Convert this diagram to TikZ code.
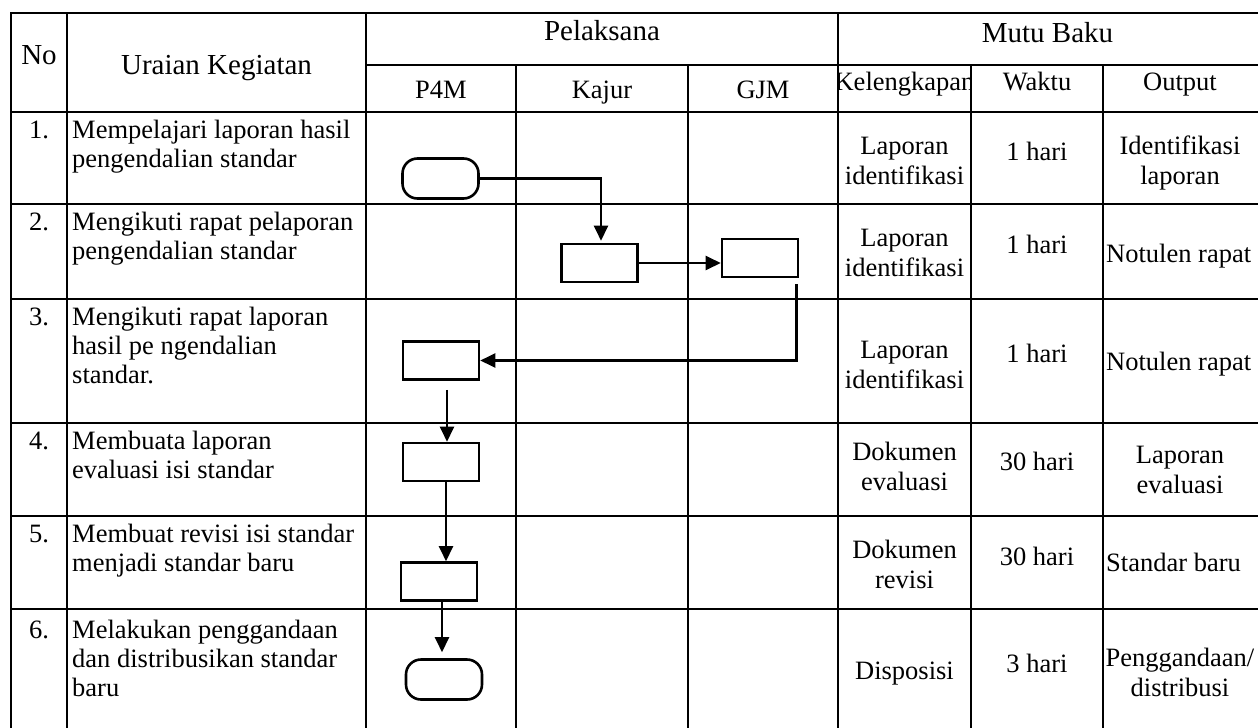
\documentclass[tikz,border=0pt]{standalone}
\usepackage{fontspec}
\setmainfont{Liberation Serif}
\usetikzlibrary{arrows.meta}
\begin{document}
\begin{tikzpicture}[x=1pt,y=-1pt,
  grid/.style={line width=1.1pt},
  proc/.style={draw,line width=2.6pt,minimum width=76pt,minimum height=38pt,inner sep=0pt},
  term/.style={draw,line width=2.6pt,rounded corners=15pt,minimum width=76pt,minimum height=40pt,inner sep=0pt},
  flow/.style={line width=2.4pt,-{Triangle[length=15pt,width=14pt]}},
  hd/.style={font=\fontsize{29}{33}\selectfont,anchor=base,inner sep=0pt},
  sub/.style={font=\fontsize{26.5}{29}\selectfont,anchor=base,inner sep=0pt},
  txt/.style={font=\fontsize{26.5}{29}\selectfont,anchor=base west,align=left,inner sep=0pt},
  num/.style={font=\fontsize{26.5}{29}\selectfont,anchor=base,inner sep=0pt},
  cel/.style={font=\fontsize{26.5}{30}\selectfont,anchor=base,align=center,inner sep=0pt},
  celw/.style={font=\fontsize{26.5}{30}\selectfont,anchor=base west,inner sep=0pt},
]
\fill[white] (0,0) rectangle (1258,728);
\path[use as bounding box] (0,0) rectangle (1258,728);

% table grid (right and bottom borders fall just outside the picture)
\begin{scope}
\clip (0,0) rectangle (1258,728);
\draw[grid] (11,13) rectangle (1259.5,729.5);
\draw[grid] (366,65) -- (1259.5,65);
\foreach \yy in {112,204,299,423,516,609} {\draw[grid] (11,\yy) -- (1259.5,\yy);}
\foreach \xx in {67,366,838} {\draw[grid] (\xx,13) -- (\xx,729.5);}
\foreach \xx in {516,688,971,1103} {\draw[grid] (\xx,65) -- (\xx,729.5);}
\end{scope}

% headers
\node[hd] (hno) at (39,64) {No};
\node[hd] (hur) at (216.5,74) {Uraian Kegiatan};
\node[hd] (hpel) at (602,40) {Pelaksana};
\node[hd] (hmb) at (1047.5,42) {Mutu Baku};
\node[sub] (hp4m) at (441,98) {P4M};
\node[sub] (hkaj) at (602,98) {Kajur};
\node[sub] (hgjm) at (763,98) {GJM};
\begin{scope}
  \clip (838,65) rectangle (971,112);
  \node[sub] (hkel) at (904.5,90) {Kelengkapan};
\end{scope}
\node[sub] (hwak) at (1037,90) {Waktu};
\node[sub] (hout) at (1180,90) {Output};

% numbers
\node[num] (n1) at (39,138) {1.};
\node[num] (n2) at (39,230) {2.};
\node[num] (n3) at (39,325) {3.};
\node[num] (n4) at (39,449) {4.};
\node[num] (n5) at (39,542) {5.};
\node[num] (n6) at (39,638) {6.};

% activities (anchor = baseline of last line)
\node[txt] (u1) at (72,167) {Mempelajari laporan hasil\\pengendalian standar};
\node[txt] (u2) at (72,259) {Mengikuti rapat pelaporan\\pengendalian standar};
\node[txt] (u3) at (72,383) {Mengikuti rapat laporan\\hasil pe ngendalian\\standar.};
\node[txt] (u4) at (72,478) {Membuata laporan\\evaluasi isi standar};
\node[txt] (u5) at (72,571) {Membuat revisi isi standar\\menjadi standar baru};
\node[txt] (u6) at (72,696) {Melakukan penggandaan\\dan distribusikan standar\\baru};

% mutu baku
\node[cel] (k1) at (904.5,184) {Laporan\\identifikasi};
\node[cel] (w1) at (1037,160) {1 hari};
\node[cel] (o1) at (1180,184) {Identifikasi\\laporan};
\node[cel] (k2) at (904.5,276) {Laporan\\identifikasi};
\node[cel] (w2) at (1037,253) {1 hari};
\node[celw] (o2) at (1106,262) {Notulen rapat};
\node[cel] (k3) at (904.5,388) {Laporan\\identifikasi};
\node[cel] (w3) at (1037,362) {1 hari};
\node[celw] (o3) at (1106,370) {Notulen rapat};
\node[cel] (k4) at (904.5,490) {Dokumen\\evaluasi};
\node[cel] (w4) at (1037,470) {30 hari};
\node[cel] (o4) at (1180,493) {Laporan\\evaluasi};
\node[cel] (k5) at (904.5,588) {Dokumen\\revisi};
\node[cel] (w5) at (1037,565) {30 hari};
\node[celw] (o5) at (1106,571) {Standar baru};
\node[cel] (k6) at (904.5,679) {Disposisi};
\node[cel] (w6) at (1037,672) {3 hari};
\node[cel] (o6) at (1180,696) {Penggandaan/\\distribusi};

% flow shapes
\node[term] (s1) at (440.5,178.5) {};
\node[proc] (kj2) at (599.5,263) {};
\node[proc] (gj2) at (760,258) {};
\node[proc] (p3) at (441,360.5) {};
\node[proc] (p4) at (441,462) {};
\node[proc] (p5) at (439,581.5) {};
\node[term] (e6) at (444,679.5) {};

% connectors
\draw[flow,shorten >=2pt] (s1.east) -| ([shift={(1.5,0)}]kj2.north);
\draw[flow] (kj2.east) -- (kj2.east -| gj2.west);
\coordinate (g2o) at ([shift={(-3,6)}]gj2.south east);
\draw[flow] (g2o) |- (p3.east);
\coordinate (p3o) at ([shift={(6,9)}]p3.south);
\draw[flow] (p3o) -- (p3o |- p4.north);
\coordinate (p4o) at ([shift={(5,0)}]p4.south);
\draw[flow] (p4o) -- (p4o |- p5.north);
\coordinate (p5o) at ([shift={(3,0)}]p5.south);
\draw[flow,shorten >=6pt] (p5o) -- (p5o |- e6.north);
\end{tikzpicture}
\end{document}
